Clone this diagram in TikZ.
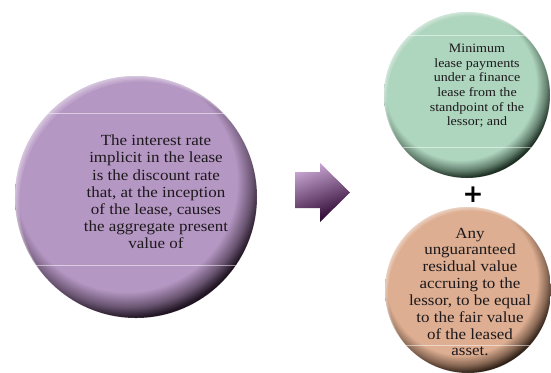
\documentclass[tikz,border=0pt]{standalone}
\usepackage{fontspec}
\setmainfont{Liberation Serif}[FakeStretch=1.1]
\newfontfamily\plusfont{DejaVu Sans}
\definecolor{pBase}{RGB}{181,151,195}
\definecolor{pDark}{RGB}{32,20,34}
\definecolor{gBase}{RGB}{174,213,190}
\definecolor{gDark}{RGB}{26,44,32}
\definecolor{tBase}{RGB}{221,174,145}
\definecolor{tDark}{RGB}{48,32,22}
\definecolor{aLight}{RGB}{200,165,210}
\definecolor{aMid}{RGB}{118,40,118}
\definecolor{aDark}{RGB}{38,0,42}
\definecolor{txt}{RGB}{28,24,28}
\colorlet{pMid}{pBase!50!pDark}
\colorlet{gMid}{gBase!50!gDark}
\colorlet{tMid}{tBase!50!tDark}
\pgfdeclareradialshading{pball}{\pgfpointorigin}{color(0bp)=(pBase); color(19.8bp)=(pBase); color(22.5bp)=(pMid); color(24.5bp)=(pDark); color(50bp)=(pDark)}
\pgfdeclareradialshading{gball}{\pgfpointorigin}{color(0bp)=(gBase); color(19.8bp)=(gBase); color(22.5bp)=(gMid); color(24.5bp)=(gDark); color(50bp)=(gDark)}
\pgfdeclareradialshading{tball}{\pgfpointorigin}{color(0bp)=(tBase); color(19.8bp)=(tBase); color(22.5bp)=(tMid); color(24.5bp)=(tDark); color(50bp)=(tDark)}
\newcommand\glossyball[4]{%
  \begin{scope}
    \clip (#1,#2) circle [radius=#3];
    \shade[shading=#4] ({#1-0.08*#3},{#2-0.13*#3}) circle [radius={1.153*#3}];
    \foreach \k in {0.010,0.022,0.038,0.058}{
      \fill[white, opacity=0.14, even odd rule] (#1,#2) circle [radius=#3]
        ({#1+0.6*\k*#3},{#2+0.75*\k*#3}) circle [radius=#3];
    }
  \end{scope}}
\newcommand\glossline[4]{%
  \begin{scope}
    \clip (#1,#2) circle [radius=#3];
    \draw[white, opacity=0.5, line width=0.7bp] ({#1-#3},#4) -- ({#1+#3},#4);
  \end{scope}}
\tikzset{
  balltext/.style={align=center, text=txt, inner sep=0pt}
}
\begin{document}
\begin{tikzpicture}[x=1bp,y=-1bp]
\useasboundingbox (0,0) rectangle (551,372);
% purple ball
\glossyball{136}{197}{121}{pball}
\glossline{136}{197}{121}{113}
\glossline{136}{197}{121}{265}
% green ball
\glossyball{467}{95}{83}{gball}
\glossline{467}{95}{83}{35}
\glossline{467}{95}{83}{147}
% tan ball
\glossyball{468}{290}{83}{tball}
\glossline{468}{290}{83}{345}
% arrow
\shade[top color=aLight, middle color=aMid, bottom color=aDark, shading angle=20]
  (295,172) -- (320,172) -- (320,163) -- (350,192.5) -- (320,222) -- (320,208) -- (295,208) -- cycle;
% texts
\node[balltext, font=\fontsize{15.5}{17.3}\selectfont] (ptext) at (156,192)
  {The interest rate\\implicit in the lease\\is the discount rate\\that, at the inception\\of the lease, causes\\the aggregate present\\value of};
\node[balltext, font=\fontsize{12.8}{14.6}\selectfont] (gtext) at (477,86)
  {Minimum\\lease payments\\under a finance\\lease from the\\standpoint of the\\lessor; and};
\node[balltext, font=\fontsize{15.5}{16.9}\selectfont] (ttext) at (470,292)
  {Any\\unguaranteed\\residual value\\accruing to the\\lessor, to be equal\\to the fair value\\of the leased\\asset.};
\node[font=\fontsize{25}{25}\plusfont\bfseries, inner sep=0pt] (plus) at (473,195) {+};
\end{tikzpicture}
\end{document}
